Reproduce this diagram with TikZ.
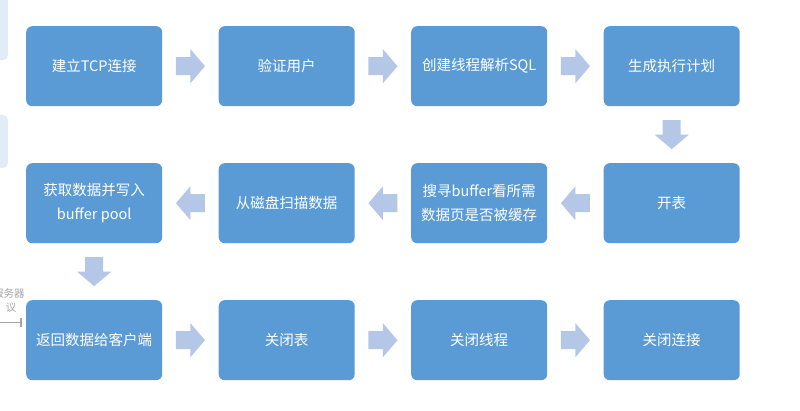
\documentclass[tikz,border=0pt]{standalone}
\usepackage{fontspec}
\setmainfont{Noto Sans CJK SC}
\newfontfamily\cjk{Noto Sans CJK SC}
\usetikzlibrary{calc}
\definecolor{boxblue}{HTML}{5B9BD5}
\definecolor{arrowblue}{HTML}{B4C7E7}
\definecolor{panelblue}{HTML}{E1ECF7}
\definecolor{faintgray}{HTML}{A6A6A6}
\tikzset{
  stepbox/.style={fill=boxblue, draw=none, rounded corners=6pt, minimum width=136pt, minimum height=80pt,
    text=white, font=\cjk\fontsize{14.5pt}{23.5pt}\selectfont, align=center, inner sep=0pt, anchor=north west},
  barrow/.pic={\fill[arrowblue] (-14.5pt,-9pt) -- (0pt,-9pt) -- (0pt,-17pt) -- (14.5pt,0pt) -- (0pt,17pt) -- (0pt,9pt) -- (-14.5pt,9pt) -- cycle;},
  panel/.style={fill=panelblue, draw=none, rounded corners=5pt},
  ghosttext/.style={text=faintgray, font=\cjk\fontsize{10.5pt}{12pt}\selectfont, inner sep=0pt}
}
\begin{document}
\begin{tikzpicture}[x=1pt,y=-1pt]
\useasboundingbox (0,0) rectangle (800,410);
\clip (0,0) rectangle (800,410);
\fill[white] (0,0) rectangle (800,410);
% faint fragments at the left edge
\fill[panel] (-20,-10) rectangle (8,60);
\fill[panel] (-20,115) rectangle (8,168);
\node[ghosttext] (g1) at (9,294) {服务器};
\node[ghosttext] (g2) at (11,308) {议};
\draw[faintgray, line width=1pt] (-5,322) -- (21,322);
\draw[faintgray, line width=1.2pt] (21,318) -- (21,327);
% row 1
\node[stepbox] (a1) at (26,26) {建立TCP连接};
\node[stepbox] (a2) at (218.5,26) {验证用户};
\node[stepbox] (a3) at (411,26) {创建线程解析SQL};
\node[stepbox] (a4) at (603.5,26) {生成执行计划};
% row 2
\node[stepbox] (b1) at (26,163) {获取数据并写入\\buffer pool};
\node[stepbox] (b2) at (218.5,163) {从磁盘扫描数据};
\node[stepbox] (b3) at (411,163) {搜寻buffer看所需\\数据页是否被缓存};
\node[stepbox] (b4) at (603.5,163) {开表};
% row 3
\node[stepbox] (c1) at (26,300) {返回数据给客户端};
\node[stepbox] (c2) at (218.5,300) {关闭表};
\node[stepbox] (c3) at (411,300) {关闭线程};
\node[stepbox] (c4) at (603.5,300) {关闭连接};
% arrows
\path ($(a1.east)!0.5!(a2.west)$) pic {barrow};
\path ($(a2.east)!0.5!(a3.west)$) pic {barrow};
\path ($(a3.east)!0.5!(a4.west)$) pic {barrow};
\path ($(a4.south)!0.5!(b4.north)$) pic[rotate=-90] {barrow};
\path ($(b4.west)!0.5!(b3.east)$) pic[rotate=180] {barrow};
\path ($(b3.west)!0.5!(b2.east)$) pic[rotate=180] {barrow};
\path ($(b2.west)!0.5!(b1.east)$) pic[rotate=180] {barrow};
\path ($(b1.south)!0.5!(c1.north)$) pic[rotate=-90] {barrow};
\path ($(c1.east)!0.5!(c2.west)$) pic {barrow};
\path ($(c2.east)!0.5!(c3.west)$) pic {barrow};
\path ($(c3.east)!0.5!(c4.west)$) pic {barrow};
\end{tikzpicture}
\end{document}
